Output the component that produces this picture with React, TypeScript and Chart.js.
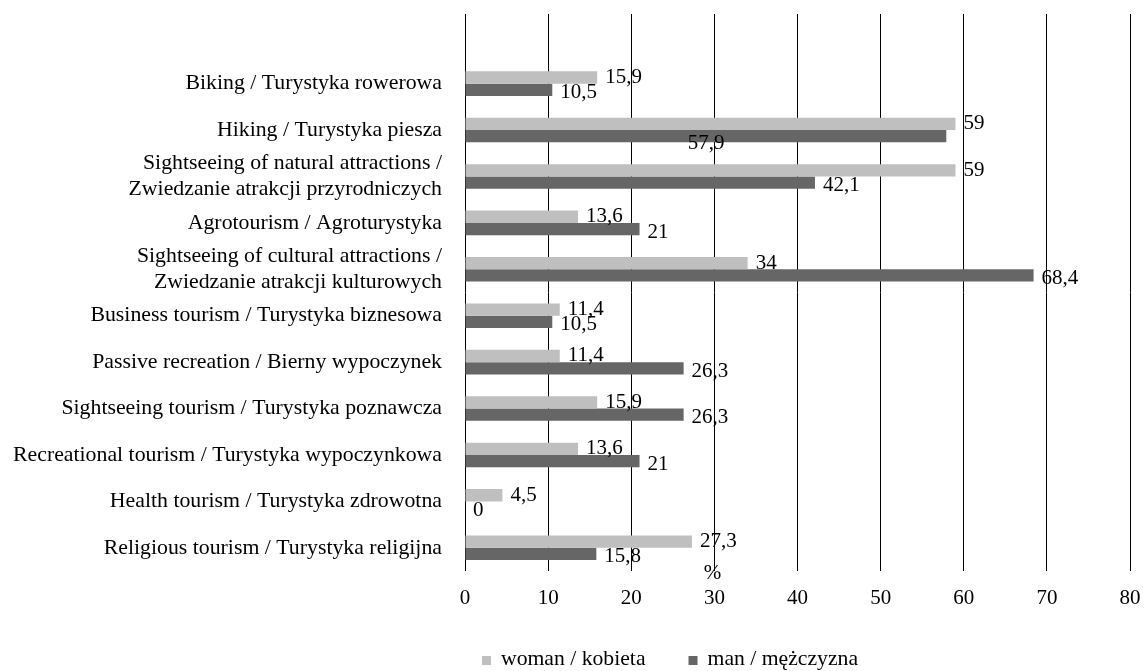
import React, { useEffect, useRef } from 'react';
import { Chart, registerables } from 'chart.js';

Chart.register(...registerables);

const categories: (string | string[])[] = [
  '',
  'Biking / Turystyka rowerowa',
  'Hiking / Turystyka piesza',
  ['Sightseeing of natural attractions /', 'Zwiedzanie atrakcji przyrodniczych'],
  'Agrotourism / Agroturystyka',
  ['Sightseeing of cultural attractions /', 'Zwiedzanie atrakcji kulturowych'],
  'Business tourism / Turystyka biznesowa',
  'Passive recreation / Bierny wypoczynek',
  'Sightseeing tourism / Turystyka poznawcza',
  'Recreational tourism / Turystyka wypoczynkowa',
  'Health tourism / Turystyka zdrowotna',
  'Religious tourism / Turystyka religijna',
];

const womanValues: (number | null)[] = [null, 15.9, 59, 59, 13.6, 34, 11.4, 11.4, 15.9, 13.6, 4.5, 27.3];
const manValues: (number | null)[] = [null, 10.5, 57.9, 42.1, 21, 68.4, 10.5, 26.3, 26.3, 21, 0, 15.8];

const seriesLabels = ['woman / kobieta', 'man / mężczyzna'];
const seriesColors = ['#bfbfbf', '#666666'];

const xMin = 0;
const xMax = 80;
const xStep = 10;
const unitLabel = '%';
const unitAtValue = 30;

const FONT = '"Liberation Serif", "Times New Roman", serif';

const fmt = (v: number) => String(v).replace('.', ',');

const labelsPlugin = {
  id: 'valueLabels',
  afterDatasetsDraw(chart: any) {
    const { ctx } = chart;
    const xScale = chart.scales.x;
    ctx.save();
    ctx.font = `21px ${FONT}`;
    ctx.fillStyle = '#000';
    ctx.textAlign = 'left';
    ctx.textBaseline = 'middle';
    chart.data.datasets.forEach((ds: any, di: number) => {
      const meta = chart.getDatasetMeta(di);
      meta.data.forEach((el: any, i: number) => {
        const v = ds.data[i];
        if (v === null || v === undefined) return;
        let x = el.x + 8;
        let y = el.y + (di === 1 ? 3 : 0);
        // Hiking / man label was moved left in the original figure
        if (di === 1 && i === 2) {
          x = xScale.getPixelForValue(26.8);
          y = el.y + 7;
        }
        ctx.fillText(fmt(v), x, y);
      });
    });
    ctx.textAlign = 'center';
    ctx.fillText(unitLabel, xScale.getPixelForValue(unitAtValue) - 2, chart.chartArea.bottom + 2);
    ctx.restore();
  },
};

const legendPlugin = {
  id: 'customLegend',
  afterDraw(chart: any) {
    const { ctx } = chart;
    ctx.save();
    ctx.font = `21.7px ${FONT}`;
    ctx.textBaseline = 'middle';
    ctx.textAlign = 'left';
    const box = 9;
    const gap = 10;
    const itemGap = 43;
    const items = chart.data.datasets.map((ds: any) => ({
      label: ds.label as string,
      color: ds.backgroundColor as string,
      w: ctx.measureText(ds.label).width,
    }));
    const total = items.reduce((s: number, it: any) => s + box + gap + it.w, 0) + itemGap * (items.length - 1);
    let x = 670 - total / 2;
    const y = 659;
    items.forEach((it: any) => {
      ctx.fillStyle = it.color;
      ctx.fillRect(x, y - 3, box, box);
      ctx.fillStyle = '#000';
      ctx.fillText(it.label, x + box + gap, y);
      x += box + gap + it.w + itemGap;
    });
    ctx.restore();
  },
};

export default function App() {
  const ref = useRef<HTMLCanvasElement | null>(null);
  useEffect(() => {
    if (!ref.current) return;
    const chart = new Chart(ref.current, {
      type: 'bar',
      data: {
        labels: categories as any,
        datasets: [
          {
            label: seriesLabels[0],
            data: womanValues,
            backgroundColor: seriesColors[0],
            borderWidth: 0,
            categoryPercentage: 0.53,
            barPercentage: 1,
          },
          {
            label: seriesLabels[1],
            data: manValues,
            backgroundColor: seriesColors[1],
            borderWidth: 0,
            categoryPercentage: 0.53,
            barPercentage: 1,
          },
        ],
      },
      options: {
        indexAxis: 'y',
        responsive: false,
        animation: false,
        layout: { padding: { top: 14, right: 15, left: 0, bottom: 0 } },
        plugins: {
          legend: { display: false },
          tooltip: { enabled: false },
          title: { display: false },
        },
        scales: {
          x: {
            min: xMin,
            max: xMax,
            ticks: {
              stepSize: xStep,
              padding: 15,
              color: '#000',
              font: { family: FONT, size: 21 },
              callback: (v: any) => String(v),
            },
            grid: { color: '#000', lineWidth: 1, drawTicks: false },
            border: { display: false },
            afterFit: (scale: any) => {
              scale.height = 100;
              scale.paddingLeft = 0;
              scale.paddingRight = 0;
            },
          },
          y: {
            ticks: {
              padding: 23,
              color: '#000',
              font: { family: FONT, size: 21.8, lineHeight: 1.22 },
              autoSkip: false,
            },
            grid: { display: false, drawTicks: false },
            border: { display: false },
            afterFit: (scale: any) => {
              scale.width = 465;
              scale.paddingTop = 0;
              scale.paddingBottom = 0;
            },
          },
        },
      },
      plugins: [labelsPlugin, legendPlugin],
    });
    return () => chart.destroy();
  }, []);
  return (
    <div style={{ position: 'absolute', left: 0, top: 0, width: 1145, height: 671, background: '#fff' }}>
      <canvas ref={ref} width={1145} height={671} style={{ display: 'block' }} />
    </div>
  );
}
